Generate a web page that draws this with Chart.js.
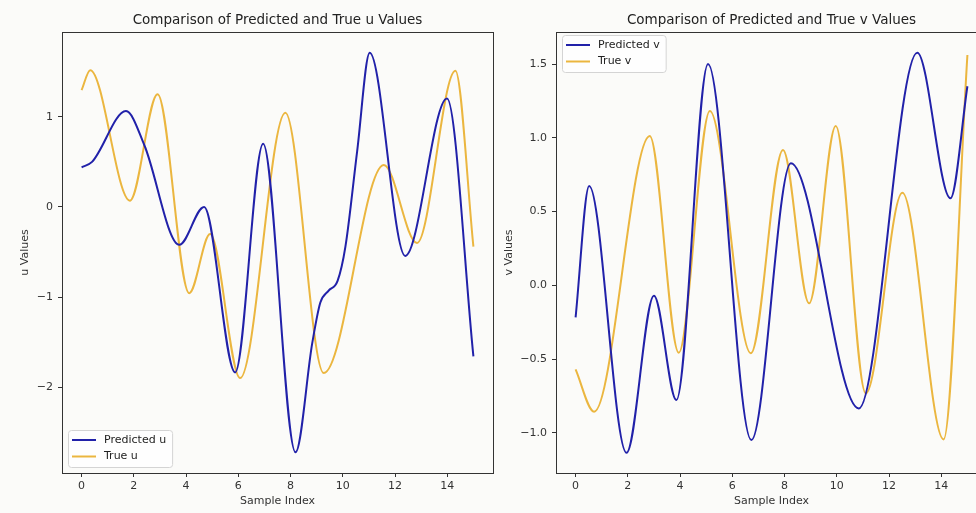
<!DOCTYPE html>
<html>
<head>
<meta charset="utf-8">
<script src="https://cdn.jsdelivr.net/npm/chart.js@4.4.1/dist/chart.umd.min.js"></script>
<style>
  html, body { margin: 0; padding: 0; background: #fbfbf9; overflow: hidden; }
  #wrap { position: relative; width: 976px; height: 513px; overflow: hidden; }
  #uBox { position: absolute; left: 0; top: 0; width: 500px; height: 513px; }
  #vBox { position: absolute; left: 490px; top: 0; width: 505px; height: 513px; }
</style>
</head>
<body>
<div id="wrap">
  <div id="uBox"><canvas id="uChart"></canvas></div>
  <div id="vBox"><canvas id="vChart"></canvas></div>
</div>
<script>
Chart.defaults.font.family = "'DejaVu Sans', sans-serif";
Chart.defaults.color = '#262626';

// x ticks shared by both panels
const sampleTicks = [0, 2, 4, 6, 8, 10, 12, 14];

// u panel (values at peaks, troughs and a few bends)
const uPredX = [0, 0.4, 1.7, 2.4, 3.74, 4.69, 5.88, 6.95, 8.19, 8.83, 9.14, 9.45, 9.8, 10.1, 10.55, 11.03, 12.39, 13.99, 15];
const uPredY = [0.44, 0.5, 1.063, 0.687, -0.42, 0.0, -1.835, 0.7, -2.72, -1.51, -1.06, -0.93, -0.82, -0.44, 0.62, 1.709, -0.543, 1.203, -1.657];
const uTrueX = [0, 0.33, 1.85, 2.91, 4.12, 4.92, 6.07, 7.8, 9.27, 11.57, 12.84, 14.31, 15];
const uTrueY = [1.296, 1.517, 0.07, 1.25, -0.956, -0.3, -1.897, 1.044, -1.842, 0.465, -0.4, 1.51, -0.44];
const uTicks = [-2, -1, 0, 1];
const uTickLabels = ['\u22122', '\u22121', '0', '1'];

// v panel
const vPredX = [0, 0.52, 1.95, 3.0, 3.86, 5.07, 6.73, 8.24, 10.84, 13.08, 14.35, 15];
const vPredY = [-0.217, 0.674, -1.136, -0.07, -0.778, 1.501, -1.05, 0.828, -0.835, 1.578, 0.59, 1.35];
const vTrueX = [0, 0.71, 2.84, 3.95, 5.14, 6.71, 7.94, 8.94, 9.96, 11.11, 12.51, 14.09, 15];
const vTrueY = [-0.57, -0.857, 1.013, -0.457, 1.183, -0.461, 0.918, -0.122, 1.081, -0.733, 0.628, -1.045, 1.562];
const vTicks = [-1, -0.5, 0, 0.5, 1, 1.5];
const vTickLabels = ['\u22121.0', '\u22120.5', '0.0', '0.5', '1.0', '1.5'];

const blue = '#2121a9';
const gold = '#ebb63f';

function pairs(xs, ys) {
    return xs.map((x, i) => ({ x: x, y: ys[i] }));
}

// axes frame, panel title and an inside legend, drawn matplotlib-style
const panelPlugin = {
    id: 'panel',
    afterDraw(chart, args, opts) {
        const ctx = chart.ctx;
        const a = chart.chartArea;
        ctx.save();
        ctx.strokeStyle = '#333';
        ctx.lineWidth = 1;
        ctx.strokeRect(Math.round(a.left) + 0.5, Math.round(a.top) + 0.5,
            Math.round(a.right - a.left), Math.round(a.bottom - a.top));

        ctx.fillStyle = '#222';
        ctx.font = "13.5px 'DejaVu Sans'";
        ctx.textAlign = 'center';
        ctx.textBaseline = 'middle';
        ctx.fillText(opts.title, (a.left + a.right) / 2, 20.5);

        ctx.font = "11px 'DejaVu Sans'";
        const items = chart.data.datasets;
        const w = 36 + Math.max(...items.map(d => ctx.measureText(d.label).width)) + 6;
        const h = 37;
        const x0 = Math.round(a.left) + 6;
        const y0 = opts.legendAt === 'bottom' ? Math.round(a.bottom) - 6 - h : Math.round(a.top) + 3;
        ctx.beginPath();
        ctx.roundRect(x0 + 0.5, y0 + 0.5, w, h, 3);
        ctx.fillStyle = 'rgba(255,255,255,0.8)';
        ctx.fill();
        ctx.strokeStyle = '#d4d4d4';
        ctx.stroke();
        items.forEach((d, i) => {
            const yy = y0 + 10 + i * 16.5;
            ctx.strokeStyle = d.borderColor;
            ctx.lineWidth = 2;
            ctx.beginPath();
            ctx.moveTo(x0 + 4, yy);
            ctx.lineTo(x0 + 28, yy);
            ctx.stroke();
            ctx.fillStyle = '#222';
            ctx.textAlign = 'left';
            ctx.fillText(d.label, x0 + 36, yy);
        });
        ctx.restore();
    }
};

function makePanel(id, p) {
    return new Chart(document.getElementById(id), {
        type: 'line',
        data: {
            datasets: [
                { label: p.names[0], data: pairs(p.predX, p.predY), borderColor: blue },
                { label: p.names[1], data: pairs(p.trueX, p.trueY), borderColor: gold }
            ]
        },
        options: {
            responsive: true,
            maintainAspectRatio: false,
            animation: false,
            layout: { padding: { top: 32, right: p.padRight, left: 0, bottom: 0 } },
            elements: {
                point: { radius: 0 },
                line: { borderWidth: 2, cubicInterpolationMode: 'monotone', fill: false }
            },
            plugins: {
                legend: { display: false },
                tooltip: { enabled: false },
                panel: { title: p.title, legendAt: p.legendAt }
            },
            scales: {
                x: {
                    type: 'linear',
                    min: -0.75,
                    max: 15.75,
                    afterBuildTicks: s => { s.ticks = sampleTicks.map(v => ({ value: v })); },
                    afterFit: s => { s.height = 40; },
                    grid: { drawOnChartArea: false, tickLength: 4, color: '#333' },
                    border: { display: false },
                    ticks: { font: { size: 11 }, padding: 3, maxRotation: 0, autoSkip: false, color: '#333' },
                    title: { display: true, text: 'Sample Index', font: { size: 11 }, color: '#333', padding: { bottom: 5 } }
                },
                y: {
                    type: 'linear',
                    min: p.yMin,
                    max: p.yMax,
                    afterBuildTicks: s => { s.ticks = p.ticks.map(v => ({ value: v })); },
                    afterFit: s => { s.width = p.axisWidth; },
                    grid: { drawOnChartArea: false, tickLength: 4, color: '#333' },
                    border: { display: false },
                    ticks: { font: { size: 11 }, padding: 5, autoSkip: false, color: '#333',
                        callback: (v, i) => p.tickLabels[i] },
                    title: { display: true, text: p.yTitle, font: { size: 11 }, color: '#333', padding: { top: p.yTitlePad } }
                }
            }
        },
        plugins: [panelPlugin]
    });
}

makePanel('uChart', {
    title: 'Comparison of Predicted and True u Values',
    names: ['Predicted u', 'True u'],
    predX: uPredX, predY: uPredY, trueX: uTrueX, trueY: uTrueY,
    yMin: -2.95, yMax: 1.94, ticks: uTicks, tickLabels: uTickLabels,
    yTitle: 'u Values', yTitlePad: 19, axisWidth: 62, padRight: 7, legendAt: 'bottom'
});

makePanel('vChart', {
    title: 'Comparison of Predicted and True v Values',
    names: ['Predicted v', 'True v'],
    predX: vPredX, predY: vPredY, trueX: vTrueX, trueY: vTrueY,
    yMin: -1.273, yMax: 1.718, ticks: vTicks, tickLabels: vTickLabels,
    yTitle: 'v Values', yTitlePad: 13, axisWidth: 66, padRight: 8, legendAt: 'top'
});
</script>
</body>
</html>
